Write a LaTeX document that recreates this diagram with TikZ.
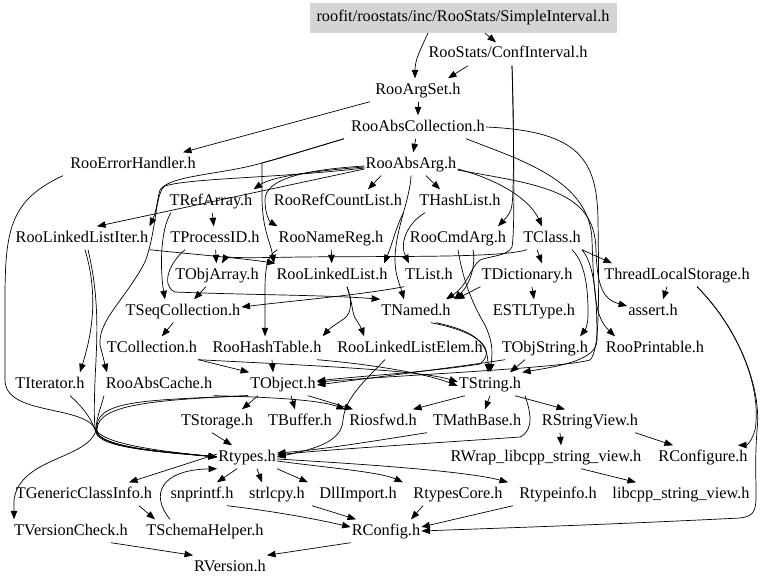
\documentclass[tikz,border=0pt]{standalone}
\usepackage{fontspec}
\setmainfont{Liberation Serif}
\usetikzlibrary{arrows.meta}
\begin{document}
\begin{tikzpicture}[x=1pt,y=-1pt,
  n/.style={inner xsep=1pt,inner ysep=4pt,font=\fontsize{16.3}{18}\selectfont,text height=11.5pt,text depth=3.5pt},
  e/.style={draw,line width=0.7pt,-{Triangle[length=8.5pt,width=6.5pt]}},
  rootbox/.style={n,fill=black!17,minimum width=307pt,minimum height=30pt}]
\useasboundingbox[fill=white] (0,0) rectangle (768,586);
% nodes
\node[rootbox] (root) at (463,18) {roofit/roostats/inc/RooStats/SimpleInterval.h};
\node[n] (ci) at (508,54) {RooStats/ConfInterval.h};
\node[n] (ras) at (418,90) {RooArgSet.h};
\node[n] (rac) at (418,127) {RooAbsCollection.h};
\node[n] (reh) at (133,164) {RooErrorHandler.h};
\node[n] (raa) at (411,164) {RooAbsArg.h};
\node[n] (tra) at (211,201) {TRefArray.h};
\node[n] (rrc) at (338,201) {RooRefCountList.h};
\node[n] (thl) at (460,201) {THashList.h};
\node[n] (rlli) at (82,238) {RooLinkedListIter.h};
\node[n] (tpid) at (215,238) {TProcessID.h};
\node[n] (rnr) at (331,238) {RooNameReg.h};
\node[n] (rca) at (458,238) {RooCmdArg.h};
\node[n] (tcl) at (552,238) {TClass.h};
\node[n] (toa) at (217,275) {TObjArray.h};
\node[n] (rll) at (332,275) {RooLinkedList.h};
\node[n] (tli) at (429,275) {TList.h};
\node[n] (tdi) at (527,275) {TDictionary.h};
\node[n] (tls) at (677,275) {ThreadLocalStorage.h};
\node[n] (tsc) at (183,311) {TSeqCollection.h};
\node[n] (tna) at (416,311) {TNamed.h};
\node[n] (estl) at (534,311) {ESTLType.h};
\node[n] (ass) at (653,311) {assert.h};
\node[n] (tco) at (152,348) {TCollection.h};
\node[n] (rht) at (267,348) {RooHashTable.h};
\node[n] (rlle) at (410,348) {RooLinkedListElem.h};
\node[n] (tos) at (545,348) {TObjString.h};
\node[n] (rpr) at (655,348) {RooPrintable.h};
\node[n] (tit) at (50,384) {TIterator.h};
\node[n] (racache) at (159,384) {RooAbsCache.h};
\node[n] (tob) at (283,384) {TObject.h};
\node[n] (tst) at (490,384) {TString.h};
\node[n] (tsto) at (217,421) {TStorage.h};
\node[n] (tbu) at (300,421) {TBuffer.h};
\node[n] (rio) at (383,421) {Riosfwd.h};
\node[n] (tmb) at (477,421) {TMathBase.h};
\node[n] (rsv) at (590,421) {RStringView.h};
\node[n] (rty) at (247,457) {Rtypes.h};
\node[n] (rwr) at (546,457) {RWrap\_libcpp\_string\_view.h};
\node[n] (rcf) at (703,457) {RConfigure.h};
\node[n] (tgci) at (84,494) {TGenericClassInfo.h};
\node[n] (snp) at (202,494) {snprintf.h};
\node[n] (strl) at (277,494) {strlcpy.h};
\node[n] (dll) at (358,494) {DllImport.h};
\node[n] (rtc) at (458,494) {RtypesCore.h};
\node[n] (rti) at (558,494) {Rtypeinfo.h};
\node[n] (lsv) at (681,494) {libcpp\_string\_view.h};
\node[n] (tvc) at (71,531) {TVersionCheck.h};
\node[n] (tsh) at (205,531) {TSchemaHelper.h};
\node[n] (rcfg) at (386,531) {RConfig.h};
\node[n] (rve) at (230,567) {RVersion.h};
% top
\draw[e] ([xshift=22pt]root.south) -- ([xshift=-12pt]ci.north);
\draw[e] ([xshift=-35pt]root.south) to[out=-115,in=90] ([xshift=-3pt]ras.north);
\draw[e] ([xshift=-40pt]ci.south) -- ([xshift=30pt]ras.north);
\draw[e] (ras) -- (rac);
\draw[e] ([xshift=-48pt]ras.south) -- ([xshift=50pt]reh.north);
\draw[e] (rac) -- (raa);
\draw[e] ([xshift=-6pt]rac.south west) .. controls (290,155) and (280,158) .. (262,163) .. controls (220,175) and (170,175) .. (160,190) .. controls (157,200) and (157,210) .. (rlli.north east);
\draw[e] ([xshift=-6pt]rac.south west) .. controls (290,155) and (280,158) .. (262,163) -- (262,195) .. controls (262,230) and (270,240) .. ([xshift=-58pt]rll.north);
\draw[e] ([yshift=-3pt]raa.west) .. controls (300,172) and (270,178) .. (tra.north east);
\draw[e] ([yshift=-2pt]raa.west) .. controls (300,170) and (265,180) .. (265,200) .. controls (265,215) and (270,222) .. (rnr.north west);
\draw[e] ([xshift=-30pt]raa.south) -- ([xshift=30pt]rrc.north);
\draw[e] ([xshift=15pt]raa.south) -- ([xshift=-20pt]thl.north);
\draw[e] ([yshift=-5pt]raa.west) -- ([xshift=15pt]rlli.north);
\draw[e] ([yshift=-4pt]raa.west) .. controls (280,178) and (190,178) .. (165,186) .. controls (155,192) and (157,230) .. (145,262) .. controls (125,300) and (98,320) .. (100,345) -- ([xshift=-52pt]racache.north);
\draw[e] ([xshift=4pt]ci.south) .. controls (514,120) and (514,190) .. (512,205) .. controls (511,212) and (508,216) .. ([xshift=40pt]rca.north);
\draw[e] ([xshift=4pt]ci.south) .. controls (514,150) and (515,230) .. (512,247) .. controls (508,256) and (490,256) .. (480,260) .. controls (470,268) and (468,285) .. ([xshift=30pt]tna.north);
% right side
\draw[e] (rac.east) .. controls (580,131) and (597,160) .. (598,220) .. controls (599,300) and (600,350) .. (590,360) .. controls (560,368) and (420,374) .. ([yshift=2pt]tob.east);
\draw[e] ([xshift=48pt]rac.south) .. controls (520,160) and (590,180) .. (592,240) .. controls (594,300) and (596,318) .. ([xshift=-40pt]rpr.north);
\draw[e] ([yshift=-6pt]raa.east) .. controls (540,185) and (595,190) .. (596,250) .. controls (597,290) and (605,300) .. ([yshift=5pt]ass.west);
\draw[e] ([yshift=-5pt]raa.east) .. controls (500,180) and (530,200) .. ([xshift=-10pt]tcl.north);
\draw[e] ([xshift=20pt]tcl.south) .. controls (588,265) and (588,300) .. (588,315) .. controls (588,325) and (585,330) .. ([xshift=35pt]tos.north);
\draw[e] (tcl.south east) .. controls (595,265) and (597,300) .. (597,340) .. controls (597,360) and (560,366) .. (tst.north east);
\draw[e] (tcl.south east) -- ([xshift=-65pt]tls.north);
\draw[e] ([xshift=-15pt]tcl.south) -- ([xshift=15pt]tdi.north);
\draw[e] ([xshift=-25pt]tcl.south) .. controls (500,258) and (400,256) .. (300,257) .. controls (250,258) and (225,258) .. ([xshift=5pt]toa.north);
\draw[e] ([xshift=-10pt]tls.south) -- ([xshift=10pt]ass.north);
\draw[e] ([xshift=20pt]tls.south) .. controls (740,330) and (762,390) .. (755,430) .. controls (752,440) and (748,445) .. ([xshift=35pt]rcf.north);
\draw[e] ([xshift=20pt]tls.south) .. controls (740,330) and (762,390) .. (757,430) .. controls (752,500) and (765,515) .. (740,518) .. controls (600,525) and (500,528) .. (rcfg.east);
\draw[e] (tdi.south west) -- ([xshift=40pt]tna.north);
\draw[e] ([xshift=5pt]tdi.south) -- (estl.north);
\draw[e] ([xshift=-35pt]thl.south) .. controls (405,225) and (400,245) .. ([xshift=-20pt]tli.north);
\draw[e] (raa.south) .. controls (410,200) and (395,230) .. (395,260) .. controls (395,275) and (400,285) .. ([xshift=-12pt]tna.north);
\draw[e] (rrc.south east) .. controls (395,230) and (392,245) .. ([xshift=52pt]rll.north);
\draw[e] (rnr) -- (rll);
\draw[e] (rnr.south west) .. controls (268,255) and (265,265) .. (265,290) -- ([xshift=-2pt]rht.north);
\draw[e] (rlli.south east) .. controls (200,255) and (240,258) .. (rll.north west);
\draw[e] ([xshift=15pt]rca.south) .. controls (476,265) and (470,285) .. ([xshift=38pt]tna.north);
\draw[e] (rca.south) .. controls (462,275) and (470,300) .. (485,325) .. controls (492,340) and (493,350) .. (tst.north);
\draw[e] ([xshift=20pt]tna.south) .. controls (470,330) and (488,340) .. ([xshift=-2pt]tst.north);
\draw[e] ([xshift=15pt]tna.south) .. controls (480,332) and (497,350) .. (480,364) .. controls (430,372) and (360,376) .. ([yshift=3pt]tob.east);
% middle
\draw[e] ([xshift=15pt]rll.south) .. controls (352,300) and (352,312) .. (345,318) .. controls (335,325) and (330,328) .. (rht.north east);
\draw[e] ([xshift=15pt]rll.south) .. controls (352,300) and (352,312) .. (355,318) .. controls (360,325) and (362,330) .. ([xshift=28pt]rlle.north west);
\draw[e] ([xshift=5pt]rht.south) -- ([xshift=-10pt]tob.north);
\draw[e] (tco.south east) -- (tob.north west);
\draw[e] (tco.south east) .. controls (300,365) and (420,370) .. ([yshift=2pt]tst.west);
\draw[e] ([xshift=50pt]rht.south) .. controls (380,365) and (430,375) .. ([yshift=-2pt]tst.west);
\draw[e] (tsc) -- (tco);
\draw[e] (toa) -- (tsc);
\draw[e] ([xshift=-40pt]tra.south) .. controls (160,230) and (160,270) .. ([xshift=-18pt]tsc.north);
\draw[e] (tra) -- (tpid);
\draw[e] (tpid) -- (toa);
\draw[e] (tli.south west) .. controls (360,295) and (300,300) .. ([yshift=4pt]tsc.east);
\draw[e] ([xshift=-30pt]tpid.south) .. controls (170,262) and (160,285) .. (175,292) .. controls (250,295) and (330,295) .. (tna.north west);
\draw[e] ([xshift=-40pt]tos.south) .. controls (450,368) and (370,378) .. ([yshift=-1pt]tob.east);
\draw[e] ([xshift=-20pt]tos.south) -- ([xshift=20pt]tst.north);
% lower
\draw[e] ([xshift=-25pt]tob.south) -- ([xshift=25pt]tsto.north);
\draw[e] ([xshift=8pt]tob.south) -- ([xshift=-5pt]tbu.north);
\draw[e] ([xshift=25pt]tob.south) -- ([xshift=-30pt]rio.north);
\draw[e] (racache.south east) .. controls (270,397) and (320,400) .. ([xshift=-38pt]rio.north);
\draw[e] ([xshift=-35pt]tob.south) .. controls (150,400) and (100,400) .. (97,425) .. controls (95,460) and (20,455) .. (14,500) -- ([xshift=-57pt]tvc.north);
\draw[e] ([xshift=-35pt]tob.south) .. controls (150,400) and (97,405) .. (97,430) .. controls (98,450) and (170,452) .. (rty.west);
\draw[e] ([xshift=-70pt]reh.south) .. controls (10,200) and (5,230) .. (5,300) -- (5,380) .. controls (5,415) and (80,405) .. (95,428) .. controls (100,445) and (170,452) .. (rty.west);
\draw[e] ([xshift=20pt]tit.south) .. controls (80,405) and (90,415) .. (95,430) .. controls (100,448) and (170,453) .. (rty.west);
\draw[e] ([xshift=-55pt]racache.south) .. controls (100,410) and (96,420) .. (96,430) .. controls (98,448) and (170,452) .. (rty.west);
\draw[e] ([xshift=6pt]rlli.south) .. controls (100,300) and (97,340) .. (95,380) .. controls (94,410) and (94,425) .. (96,432) .. controls (98,449) and (170,452) .. (rty.west);
\draw[e] ([xshift=3pt]rlli.south) .. controls (100,300) and (90,340) .. ([xshift=30pt]tit.north);
\draw[e] ([xshift=-5pt]tsto.south) -- ([xshift=-15pt]rty.north);
\draw[e] ([xshift=-35pt]tsh.north) .. controls (150,495) and (160,470) .. (rty.south west);
\draw[e] ([yshift=3pt]rty.west) -- ([xshift=45pt]tgci.north);
\draw[e] ([xshift=-10pt]rty.south) -- ([xshift=15pt]snp.north);
\draw[e] ([xshift=10pt]rty.south) -- ([xshift=-15pt]strl.north);
\draw[e] (rty.south east) -- ([xshift=-50pt]dll.north);
\draw[e] ([yshift=-4pt]rty.east) .. controls (330,468) and (380,472) .. ([xshift=-55pt]rtc.north);
\draw[e] ([yshift=-2pt]rty.east) .. controls (380,465) and (470,472) .. ([xshift=-50pt]rti.north);
\draw[e] ([xshift=55pt]tgci.south) -- ([xshift=-50pt]tsh.north);
\draw[e] ([xshift=25pt]snp.south) .. controls (280,512) and (320,520) .. ([yshift=4pt]rcfg.west);
\draw[e] ([xshift=35pt]strl.south) -- ([xshift=-30pt]rcfg.north);
\draw[e] ([xshift=-35pt]rtc.south) -- ([xshift=25pt]rcfg.north);
\draw[e] ([xshift=-45pt]rti.south) -- ([yshift=4pt]rcfg.east);
\draw[e] ([xshift=40pt]tvc.south) -- (rve.north west);
\draw[e] (rcfg.south west) -- (rve.north east);
\draw[e] ([xshift=-30pt]rsv.south) -- ([xshift=15pt]rwr.north);
\draw[e] ([xshift=45pt]rsv.south) -- ([xshift=-30pt]rcf.north);
\draw[e] ([xshift=35pt]rwr.south) -- ([xshift=-45pt]lsv.north);
\draw[e] ([xshift=-25pt]tst.south) -- ([xshift=30pt]rio.north);
\draw[e] (tst.south) -- ([xshift=8pt]tmb.north);
\draw[e] ([xshift=25pt]tst.south) -- ([xshift=-25pt]rsv.north);
\draw[e] ([xshift=35pt]tst.south) .. controls (530,410) and (535,430) .. (520,437) .. controls (450,442) and (320,450) .. ([yshift=2pt]rty.east);
\draw[e] ([xshift=-50pt]tmb.south) .. controls (380,440) and (320,450) .. ([yshift=4pt]rty.east);
\draw[e] ([xshift=-25pt]rlle.south) .. controls (360,385) and (345,400) .. (343,420) .. controls (342,440) and (320,448) .. (rty.east);
\end{tikzpicture}
\end{document}
